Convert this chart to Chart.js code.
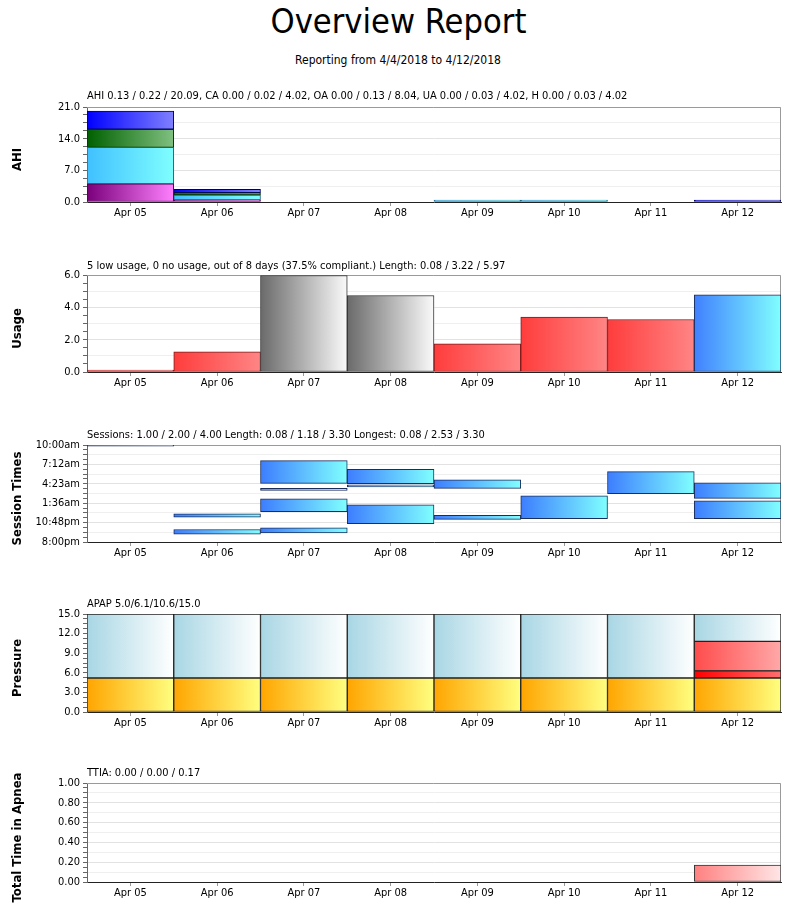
<!DOCTYPE html>
<html>
<head>
<meta charset="utf-8">
<title>Overview Report</title>
<script src="https://cdn.jsdelivr.net/npm/chart.js@4.4.1/dist/chart.umd.min.js"></script>
<style>
  body { margin: 0; background: #fff; font-family: 'DejaVu Sans Condensed', 'DejaVu Sans', sans-serif; color: #000; }
  #page { position: relative; width: 796px; height: 919px; overflow: hidden; }
  #title { position: absolute; left: 0; top: 4px; width: 796px; text-align: center; font-size: 34px; line-height: 34px; }
  #title span { display: inline-block; transform-origin: 50% 50%; }
  #sub { position: absolute; left: 0; top: 53px; width: 796px; text-align: center; font-size: 12px; line-height: 14px; }
  canvas { position: absolute; left: 0; }
  .head { position: absolute; left: 87px; font-size: 11px; line-height: 13px; white-space: nowrap; z-index: 2; }
</style>
</head>
<body>
<div id="page">
  <div id="title"><span>Overview Report</span></div>
  <div id="sub">Reporting from 4/4/2018 to 4/12/2018</div>

  <canvas id="ahi" width="796" height="133" style="top:95px"></canvas>
  <canvas id="usage" width="796" height="135" style="top:263px"></canvas>
  <canvas id="sessions" width="796" height="135" style="top:433px"></canvas>
  <canvas id="pressure" width="796" height="136" style="top:602px"></canvas>
  <canvas id="ttia" width="796" height="140" style="top:771px"></canvas>

  <div class="head" style="top:89px">AHI 0.13 / 0.22 / 20.09, CA 0.00 / 0.02 / 4.02, OA 0.00 / 0.13 / 8.04, UA 0.00 / 0.03 / 4.02, H 0.00 / 0.03 / 4.02</div>
  <div class="head" style="top:259px">5 low usage, 0 no usage, out of 8 days (37.5% compliant.) Length: 0.08 / 3.22 / 5.97</div>
  <div class="head" style="top:428px">Sessions: 1.00 / 2.00 / 4.00 Length: 0.08 / 1.18 / 3.30 Longest: 0.08 / 2.53 / 3.30</div>
  <div class="head" style="top:597px">APAP 5.0/6.1/10.6/15.0</div>
  <div class="head" style="top:766px">TTIA: 0.00 / 0.00 / 0.17</div>
</div>

<script>
const days = ['Apr 05', 'Apr 06', 'Apr 07', 'Apr 08', 'Apr 09', 'Apr 10', 'Apr 11', 'Apr 12'];

// AHI per night, split by event type (stacked bottom to top)
const ahiH  = [4.02, 0.45, 0, 0, 0, 0, 0, 0];
const ahiOA = [8.04, 1.10, 0, 0, 0.30, 0.05, 0, 0];
const ahiCA = [4.02, 0.50, 0, 0, 0, 0, 0, 0];
const ahiUA = [4.02, 0.75, 0, 0, 0, 0, 0, 0.13];
const ahiTicks = ['0.0', '7.0', '14.0', '21.0'];

// hours of use per night
const usageHours = [0.08, 1.25, 5.97, 4.73, 1.75, 3.40, 3.25, 4.78];
const usageTicks = ['0.0', '2.0', '4.0', '6.0'];

// sessions as [start, end] in hours after 8:00pm
const session1 = [[13.82, 13.9], [1.13, 1.81], [1.32, 2.05], [2.63, 5.37], [3.27, 3.86], [3.35, 6.65], [6.97, 10.15], [3.36, 5.95]];
const session2 = [null, [3.57, 4.05], [4.39, 6.24], [7.95, 8.14], [7.75, 8.98], null, null, [6.29, 8.54]];
const session3 = [null, null, [7.46, 7.66], [8.43, 10.48], null, null, null, null];
const session4 = [null, null, [8.45, 11.75], null, null, null, null, null];
const sessionTicks = ['8:00pm', '10:48pm', '1:36am', '4:23am', '7:12am', '10:00am'];

// pressure per night
const pressureMin = [5.2, 5.2, 5.2, 5.2, 5.2, 5.2, 5.2, 5.2];
const pressureMed = [null, null, null, null, null, null, null, 6.3];
const pressure95  = [null, null, null, null, null, null, null, 10.8];
const pressureMax = [15, 15, 15, 15, 15, 15, 15, 15];
const pressureTicks = ['0.0', '3.0', '6.0', '9.0', '12.0', '15.0'];

// total time in apnea
const ttia = [0, 0, 0, 0, 0, 0, 0, 0.17];
const ttiaTicks = ['0.00', '0.20', '0.40', '0.60', '0.80', '1.00'];

const FONT = "'DejaVu Sans Condensed', 'DejaVu Sans', sans-serif";
Chart.defaults.font.family = FONT;
Chart.defaults.font.size = 11;
Chart.defaults.color = '#000';

// horizontal gradient across one day column
function grad(c0, c1) {
    return (ctx) => {
        const chart = ctx.chart;
        const area = chart.chartArea;
        if (!area || ctx.dataIndex === undefined) return c0;
        const x = chart.scales.x.getPixelForValue(ctx.dataIndex);
        const half = area.width / days.length / 2;
        const g = chart.ctx.createLinearGradient(x - half, 0, x + half, 0);
        g.addColorStop(0, c0);
        g.addColorStop(1, c1);
        return g;
    };
}

function bars(data, colors, border) {
    return {
        // empty nights get no bar at all, tiny ones still show as a thin line
        data: data.map(v => (v === 0 ? null : v)),
        backgroundColor: typeof colors === 'function' ? colors : grad(colors[0], colors[1]),
        borderColor: border,
        borderWidth: 1,
        borderSkipped: false,
        minBarLength: 2,
        barPercentage: 1,
        categoryPercentage: 1,
        grouped: false
    };
}

// grey box round the plot area (top and right edges)
const frame = {
    id: 'frame',
    beforeDatasetsDraw(chart) {
        const a = chart.chartArea;
        const ctx = chart.ctx;
        ctx.save();
        ctx.strokeStyle = '#9a9a9a';
        ctx.lineWidth = 1;
        ctx.beginPath();
        ctx.moveTo(a.left, Math.round(a.top) + 0.5);
        ctx.lineTo(Math.round(a.right) - 0.5, Math.round(a.top) + 0.5);
        ctx.lineTo(Math.round(a.right) - 0.5, a.bottom);
        ctx.stroke();
        ctx.restore();
    }
};

// rotated y title, drawn by hand so long titles are not cut to the plot height
const yTitle = {
    id: 'yTitle',
    afterDraw(chart, args, opts) {
        const a = chart.chartArea;
        const ctx = chart.ctx;
        ctx.save();
        ctx.font = 'bold 13px ' + FONT;
        ctx.fillStyle = '#000';
        ctx.textAlign = 'center';
        ctx.textBaseline = 'middle';
        ctx.translate(17.5, (a.top + a.bottom) / 2 + 5);
        ctx.rotate(-Math.PI / 2);
        ctx.fillText(opts.text, 0, 0);
        ctx.restore();
    }
};

function makeChart(id, spec) {
    const step = (spec.max - spec.min) / (spec.ticks.length - 1) / 4;
    return new Chart(document.getElementById(id), {
        type: 'bar',
        data: { labels: days, datasets: spec.datasets },
        options: {
            responsive: false,
            animation: false,
            devicePixelRatio: 1,
            layout: { padding: { top: 12, right: 15, left: 0, bottom: spec.bottomPad || 0 } },
            plugins: {
                legend: { display: false },
                tooltip: { enabled: false },
                yTitle: { text: spec.title }
            },
            scales: {
                x: {
                    stacked: spec.stacked,
                    offset: true,
                    grid: { offset: false, drawOnChartArea: false, tickLength: 4, tickColor: '#999' },
                    border: { color: '#222' },
                    ticks: { padding: 1, maxRotation: 0, autoSkip: false },
                    afterFit: s => { s.height = 26; }
                },
                y: {
                    stacked: spec.stacked,
                    min: spec.min,
                    max: spec.max,
                    ticks: {
                        stepSize: step,
                        autoSkip: false,
                        padding: 3,
                        callback: (v, i) => i % 4 === 0 ? spec.ticks[i / 4] : ''
                    },
                    grid: {
                        color: c => c.index % 4 === 0 ? '#e2e2e2' : (c.index % 2 === 0 ? '#efefef' : 'rgba(0,0,0,0)'),
                        tickColor: '#666',
                        tickLength: 4
                    },
                    border: { color: '#666' },
                    afterFit: s => { s.width = 87; }
                }
            }
        },
        plugins: [frame, yTitle]
    });
}

makeChart('ahi', {
    title: 'AHI', min: 0, max: 21, ticks: ahiTicks, stacked: true,
    datasets: [
        bars(ahiH, ['#7a007a', '#ff80ff'], '#4a004a'),
        bars(ahiOA, ['#40c0ff', '#80ffff'], '#206080'),
        bars(ahiCA, ['#006000', '#80c080'], '#003000'),
        bars(ahiUA, ['#0000ff', '#8080ff'], '#000060')
    ]
});

// red under 4 hours, grey for compliant nights, blue for the last night
function usageKind(i) {
    if (i === days.length - 1) return 'last';
    return usageHours[i] >= 4 ? 'ok' : 'low';
}
const usageFill = { low: ['#ff3c3c', '#ff8585'], ok: ['#6a6a6a', '#fafafa'], last: ['#4080ff', '#80ffff'] };
const usageEdge = { low: '#7a1a1a', ok: '#333333', last: '#1a2e5e' };

const usageSet = bars(usageHours, ctx => {
    if (ctx.dataIndex === undefined) return '#ff4040';
    const f = usageFill[usageKind(ctx.dataIndex)];
    return grad(f[0], f[1])(ctx);
}, '#333');
usageSet.borderColor = ctx => ctx.dataIndex === undefined ? '#333' : usageEdge[usageKind(ctx.dataIndex)];

makeChart('usage', {
    title: 'Usage', min: 0, max: 6, ticks: usageTicks, stacked: false,
    datasets: [usageSet]
});

const sessColors = ['#3d7dff', '#80ffff'];
makeChart('sessions', {
    title: 'Session Times', min: 0, max: 14, ticks: sessionTicks, stacked: false,
    datasets: [
        bars(session1, sessColors, '#1a2e5e'),
        bars(session2, sessColors, '#1a2e5e'),
        bars(session3, sessColors, '#1a2e5e'),
        bars(session4, sessColors, '#1a2e5e')
    ]
});

makeChart('pressure', {
    title: 'Pressure', min: 0, max: 15, ticks: pressureTicks, stacked: false,
    datasets: [
        bars(days.map((d, i) => [0, pressureMin[i]]), ['#ffa500', '#ffff80'], '#222'),
        bars(days.map((d, i) => pressureMed[i] === null ? null : [pressureMin[i], pressureMed[i]]), ['#ff0000', '#ff7070'], '#222'),
        bars(days.map((d, i) => pressure95[i] === null ? null : [pressureMed[i], pressure95[i]]), ['#ff4c4c', '#ffa8a8'], '#222'),
        bars(days.map((d, i) => [pressure95[i] === null ? pressureMin[i] : pressure95[i], pressureMax[i]]), ['#a8d6e4', '#ffffff'], '#222')
    ]
});

makeChart('ttia', {
    title: 'Total Time in Apnea', min: 0, max: 1, ticks: ttiaTicks, stacked: false, bottomPad: 3,
    datasets: [bars(ttia, ['#ff8080', '#ffe6e6'], '#333')]
});

// fit the big title to the width it has in the report
const t = document.querySelector('#title span');
t.style.transform = 'scaleX(' + (256 / t.offsetWidth) + ')';
</script>
</body>
</html>
